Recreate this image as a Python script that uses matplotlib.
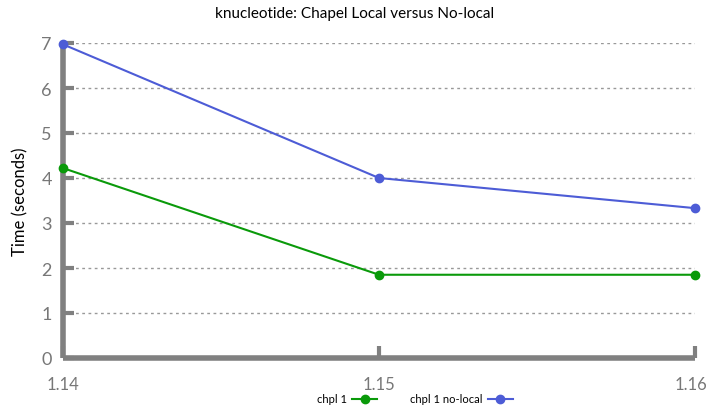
import matplotlib
matplotlib.use("Agg")
import matplotlib.pyplot as plt
import matplotlib.transforms as mtrans

versions = ["1.14", "1.15", "1.16"]
chpl_local = [4.22, 1.85, 1.85]
chpl_nolocal = [6.97, 4.0, 3.33]
yticks = [0, 1, 2, 3, 4, 5, 6, 7]

plt.rcParams['font.family'] = ['Lato', 'DejaVu Sans']

fig = plt.figure(figsize=(7.09, 4.10), dpi=100)
ax = fig.add_axes([63/709, 1-359/410, (695-63)/709, (359-44)/410])

x = list(range(len(versions)))
ax.plot(x, chpl_local, color='#0a9a0a', lw=1.5, marker='o', ms=6, label='chpl 1', clip_on=False, zorder=5)
ax.plot(x, chpl_nolocal, color='#4d5cd6', lw=1.5, marker='o', ms=6, label='chpl 1 no-local', clip_on=False, zorder=5)

ax.set_xlim(0, 2)
ax.set_ylim(0, 7)
ax.set_yticks(yticks)
ax.set_yticklabels([str(v) for v in yticks])
ax.set_xticks(x)
ax.set_xticklabels(versions)

for v in yticks[1:]:
    ax.axhline(v, color='#999999', lw=1, ls=(0, (2, 2.5)), zorder=1)

for s in ['top', 'right']:
    ax.spines[s].set_visible(False)
for s in ['left', 'bottom']:
    ax.spines[s].set_color('#808080')
    ax.spines[s].set_linewidth(4)
    ax.spines[s].set_capstyle('butt')

ax.tick_params(axis='y', direction='in', length=8, width=3, color='#808080',
               labelcolor='#777777', labelsize=13, pad=8)
ax.tick_params(axis='x', direction='in', length=9, width=3, color='#808080',
               labelcolor='#777777', labelsize=12, pad=13)

last = ax.get_xticklabels()[-1]
last.set_horizontalalignment('right')
last.set_transform(last.get_transform() + mtrans.ScaledTranslation(12/100, 0, fig.dpi_scale_trans))

ax.set_ylabel('Time (seconds)', fontsize=12, color='black', labelpad=9)
fig.text(0.5, 1-14/410, 'knucleotide: Chapel Local versus No-local', ha='center', va='center', fontsize=11)

leg = fig.legend(loc='center', bbox_to_anchor=(0.585, 1-400/410), ncol=2, frameon=False,
                 markerfirst=False, fontsize=8, handlelength=2.2, columnspacing=3, handletextpad=0.5)

fig.savefig('out.png', dpi=100)
